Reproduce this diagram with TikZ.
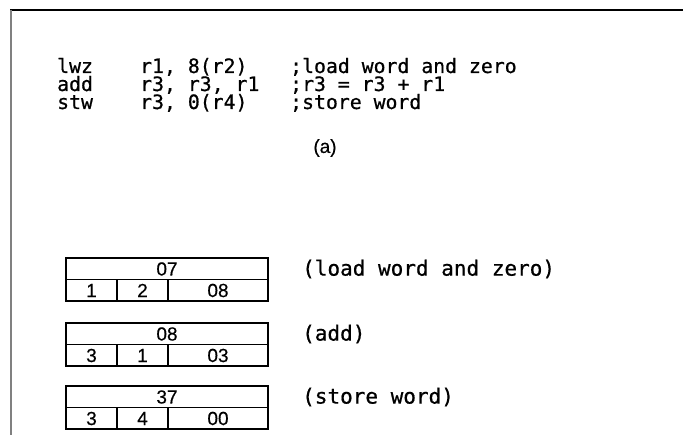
\documentclass[tikz,border=0pt]{standalone}
\usepackage{fontspec}
\setmainfont{Liberation Sans}[FakeBold=0.4]
\newfontfamily\codefont{DejaVu Sans Mono}[FakeBold=0.7]

\begin{document}
\begin{tikzpicture}[x=1pt, y=-1pt,
		code/.style = {anchor=base west, inner sep=0pt,
				font=\codefont\fontsize{19.8}{22}\selectfont},
		field/.style = {inner sep=0pt, font=\fontsize{19}{22}\selectfont},
		frame/.style = {line width=1.8pt}
	]
	\useasboundingbox (0,0) rectangle (683,435);

	% page edges
	\draw[line width=1.5pt] (10,10) -- (683,10);
	\draw[gray, line width=1.2pt] (11,10) -- (11,435);

	% the three instructions
	\foreach \op/\args/\note [count=\i] in {
			lwz/{r1, 8(r2)}/{;load word and zero},
			add/{r3, r3, r1}/{;r3 = r3 + r1},
			stw/{r3, 0(r4)}/{;store word}} {
			\node[code] (op\i) at (57, 55+18*\i) {\op};
			\node[code] (args\i) at (140, 55+18*\i) {\args};
			\node[code] (note\i) at (290, 55+18*\i) {\note};
		}
	\node[field] (parta) at (325,148) {(a)};

	% encoded words: opcode on top, two registers and immediate below
	\foreach \y/\opc/\ra/\rb/\imm/\what [count=\k] in {
			258/07/1/2/08/{(load word and zero)},
			323/08/3/1/03/{(add)},
			386/37/3/4/00/{(store word)}} {
			\draw[frame] (66,\y) rectangle (268,\y+43);
			\draw[frame] (66,\y+21.5) -- (268,\y+21.5);
			\draw[frame] (117,\y+21.5) -- (117,\y+43);
			\draw[frame] (168,\y+21.5) -- (168,\y+43);
			\node[field] (opc\k) at (167,\y+11) {\opc};
			\node[field] (ra\k) at (91.5,\y+32.5) {\ra};
			\node[field] (rb\k) at (142.5,\y+32.5) {\rb};
			\node[field] (imm\k) at (218,\y+32.5) {\imm};
			\node[code, anchor=west, font=\codefont\fontsize{21}{24}\selectfont]
				(what\k) at (302,\y+11) {\what};
		}
\end{tikzpicture}
\end{document}
